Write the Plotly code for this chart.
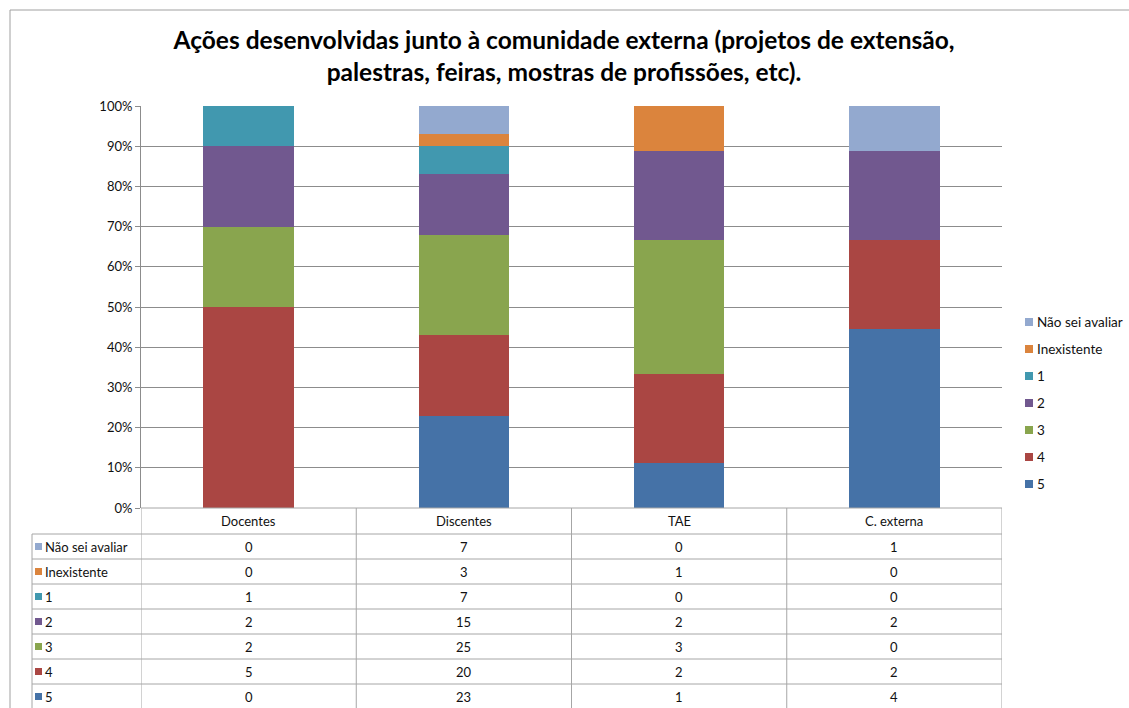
import plotly.graph_objects as go

categories = ["Docentes", "Discentes", "TAE", "C. externa"]
series_names = ["5", "4", "3", "2", "1", "Inexistente", "Não sei avaliar"]
v5 = [0, 23, 1, 4]
v4 = [5, 20, 2, 2]
v3 = [2, 25, 3, 0]
v2 = [2, 15, 2, 2]
v1 = [1, 7, 0, 0]
v_inex = [0, 3, 1, 0]
v_nsa = [0, 7, 0, 1]
series_values = [v5, v4, v3, v2, v1, v_inex, v_nsa]
colors = ["#4572A7", "#AA4643", "#89A54E", "#71588F", "#4198AF", "#DB843D", "#93A9CF"]
y_ticks = [0, 10, 20, 30, 40, 50, 60, 70, 80, 90, 100]
y_tick_labels = [f"{t}%" for t in y_ticks]

W, H = 1129, 708
FONT = "Lato"
TXT = "#111111"

def px(x):
    return x / W

def py(y):
    return 1 - y / H

fig = go.Figure()
for i, (name, vals, col) in enumerate(zip(series_names, series_values, colors)):
    fig.add_trace(go.Bar(
        x=categories, y=vals, name=name, marker=dict(color=col, line=dict(width=0)),
        showlegend=False,
    ))

plot_l, plot_r, plot_t, plot_b = 141, 1002, 106, 508

fig.update_layout(
    autosize=True,
    barmode="stack", barnorm="percent", bargap=0.58,
    margin=dict(l=0, r=0, t=0, b=0, pad=0),
    paper_bgcolor="white", plot_bgcolor="white",
    font=dict(family=FONT, size=13, color=TXT),
    title=dict(
        text="<b>Ações desenvolvidas junto à comunidade externa (projetos de extensão,<br>palestras, feiras, mostras de profissões, etc).</b>",
        x=px(564), xanchor="center", y=py(49), yanchor="middle",
        font=dict(family=FONT, size=24.5, color="#000000"),
    ),
    xaxis=dict(domain=[px(plot_l), px(plot_r)], showticklabels=False, showgrid=False,
               showline=False, zeroline=False, range=[-0.5, 3.5], fixedrange=True),
    yaxis=dict(domain=[py(plot_b), py(plot_t)], range=[0, 100], tickvals=y_ticks,
               ticktext=y_tick_labels, showgrid=True, gridcolor="#8c8c8c", gridwidth=1,
               showline=True, linecolor="#8c8c8c", linewidth=1, ticks="outside",
               ticklen=5, tickcolor="#8c8c8c", zeroline=False, automargin=False,
               tickfont=dict(family=FONT, size=13, color=TXT)),
    showlegend=False,
)

shapes = []
line_col = "#a6a6a6"
# chart frame
shapes.append(dict(type="line", xref="paper", yref="paper", x0=px(10), x1=1, y0=py(10), y1=py(10),
                   line=dict(color="#a0a0a0", width=1)))
shapes.append(dict(type="line", xref="paper", yref="paper", x0=px(10), x1=px(10), y0=py(10), y1=0,
                   line=dict(color="#a0a0a0", width=1)))

header_top = plot_b
row_top = 534
row_h = 25
n_rows = len(series_names)
table_bottom = row_top + row_h * n_rows
leg_col_l = 32

# x axis / table header top
shapes.append(dict(type="line", xref="paper", yref="paper", x0=px(plot_l), x1=px(plot_r),
                   y0=py(header_top), y1=py(header_top), line=dict(color=line_col, width=1)))
# horizontal row lines
for r in range(n_rows + 1):
    yy = row_top + r * row_h
    shapes.append(dict(type="line", xref="paper", yref="paper", x0=px(leg_col_l), x1=px(plot_r),
                       y0=py(yy), y1=py(yy), line=dict(color=line_col, width=1)))
# vertical lines at category boundaries
for k in range(len(categories) + 1):
    shapes.append(dict(type="line", xref="x", yref="paper", x0=k - 0.5, x1=k - 0.5,
                       y0=py(header_top), y1=py(table_bottom), line=dict(color=line_col, width=1)))
shapes.append(dict(type="line", xref="paper", yref="paper", x0=px(leg_col_l), x1=px(leg_col_l),
                   y0=py(row_top), y1=py(table_bottom), line=dict(color=line_col, width=1)))

annotations = []
for k, c in enumerate(categories):
    annotations.append(dict(x=k, y=py((header_top + row_top) / 2), xref="x", yref="paper",
                            text=c, showarrow=False, xanchor="center", yanchor="middle",
                            font=dict(family=FONT, size=13, color=TXT)))

# table rows: top row = last series (Não sei avaliar)
for r, idx in enumerate(reversed(range(n_rows))):
    yc = row_top + r * row_h + row_h / 2
    shapes.append(dict(type="rect", xref="paper", yref="paper", x0=px(35), x1=px(42),
                       y0=py(yc + 3.5), y1=py(yc - 3.5), fillcolor=colors[idx],
                       line=dict(width=0)))
    annotations.append(dict(x=px(43), y=py(yc), xref="paper", yref="paper", text=series_names[idx],
                            showarrow=False, xanchor="left", yanchor="middle",
                            font=dict(family=FONT, size=13, color=TXT)))
    for k in range(len(categories)):
        annotations.append(dict(x=k, y=py(yc), xref="x", yref="paper",
                                text=str(series_values[idx][k]), showarrow=False,
                                xanchor="center", yanchor="middle",
                                font=dict(family=FONT, size=13, color=TXT)))

# legend (manual, Excel style) on the right
leg_top = 322
leg_step = 27
for r, idx in enumerate(reversed(range(n_rows))):
    yc = leg_top + r * leg_step
    shapes.append(dict(type="rect", xref="paper", yref="paper", x0=px(1025), x1=px(1033),
                       y0=py(yc + 4), y1=py(yc - 4), fillcolor=colors[idx],
                       line=dict(width=0)))
    annotations.append(dict(x=px(1035), y=py(yc), xref="paper", yref="paper", text=series_names[idx],
                            showarrow=False, xanchor="left", yanchor="middle",
                            font=dict(family=FONT, size=13.5, color=TXT)))

fig.update_layout(shapes=shapes, annotations=annotations)
post = (
    "document.documentElement.style.margin='0';"
    "document.documentElement.style.overflow='hidden';"
    "document.body.style.margin='0';document.body.style.padding='0';"
    "document.body.style.overflow='hidden';"
    "var d=document.getElementById('{plot_id}');"
    "d.style.position='fixed';d.style.left='0px';d.style.top='0px';"
    "d.style.width='100vw';d.style.height='100vh';"
    "Plotly.Plots.resize(d);"
)
fig.write_html("out.html", default_width="100vw", default_height="100vh",
               config={"displayModeBar": False, "responsive": True}, post_script=post)
